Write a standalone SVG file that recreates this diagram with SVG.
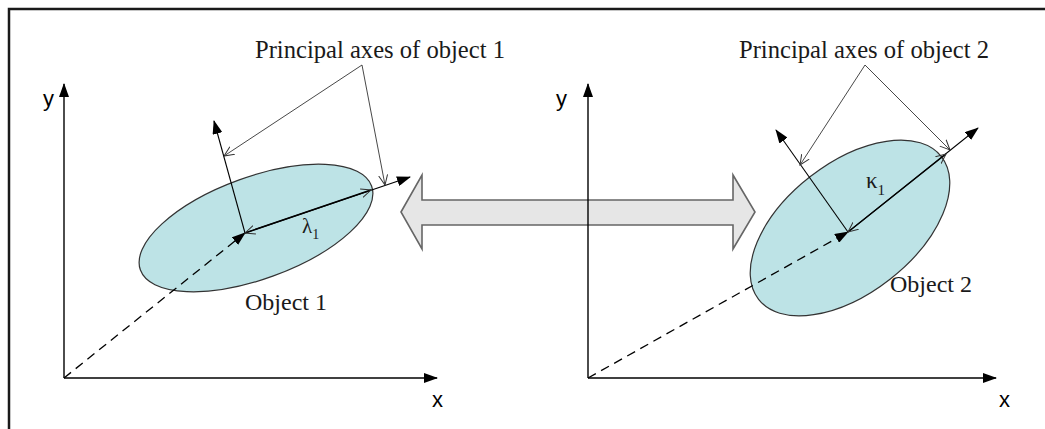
<svg xmlns="http://www.w3.org/2000/svg" width="1045" height="429" viewBox="0 0 1045 429">
<style>
.frame{fill:none;stroke:#1a1a1a;stroke-width:2.5}
.axis{stroke:#000;stroke-width:1.4;fill:none}
.dash{stroke:#000;stroke-width:1.3;stroke-dasharray:9,6;fill:none}
.thin{stroke:#000;stroke-width:1.1;fill:none}
.bold{stroke:#000;stroke-width:1.6;fill:none}
.call{stroke:#333;stroke-width:0.9;fill:none}
.obj{fill:#bde3e6;stroke:#333;stroke-width:1.2}
.big{fill:#e6e6e6;stroke:#666;stroke-width:1.6}
.serif{font-family:"Liberation Serif","Times New Roman",serif;fill:#1a1a1a}
.sans{font-family:"Liberation Sans",Arial,sans-serif;fill:#000;font-size:22px}
</style>
<defs>
<marker id="fill" markerUnits="userSpaceOnUse" markerWidth="14" markerHeight="10" refX="13" refY="5" orient="auto">
<path d="M0,0 L14,5 L0,10 z" fill="#000"/>
</marker>
<marker id="open" markerUnits="userSpaceOnUse" markerWidth="11" markerHeight="10" refX="10" refY="5" orient="auto-start-reverse">
<path d="M0,0.5 L10,5 L0,9.5" fill="none" stroke="#333" stroke-width="1"/>
</marker>
</defs>
<rect class="frame" x="9" y="9" width="1060" height="440"/>
<g id="bigArrow">
<polygon class="big" points="401,212 422,175 422,200 733,200 733,175 755,212 733,249 733,225 422,225 422,249"/>
</g>
<g id="axes1">
<line class="axis" x1="64" y1="378" x2="64" y2="84" marker-end="url(#fill)"/>
<line class="axis" x1="64" y1="378" x2="437" y2="378" marker-end="url(#fill)"/>
<text class="sans" x="43" y="106">y</text>
<text class="sans" x="432" y="407">x</text>
</g>
<g id="axes2">
<line class="axis" x1="588" y1="378" x2="588" y2="84" marker-end="url(#fill)"/>
<line class="axis" x1="588" y1="378" x2="996" y2="378" marker-end="url(#fill)"/>
<text class="sans" x="556" y="106">y</text>
<text class="sans" x="999" y="407">x</text>
</g>
<g id="object1">
<ellipse class="obj" cx="256" cy="228" rx="123" ry="51" transform="rotate(-20 256 228)"/>
<text class="serif" x="245" y="310" font-size="24">Object 1</text>
</g>
<g id="object2">
<ellipse class="obj" cx="850" cy="228" rx="116" ry="65" transform="rotate(-38 850 228)"/>
<text class="serif" x="890" y="292" font-size="24">Object 2</text>
</g>
<g id="connectors">
<line class="dash" x1="64" y1="378" x2="245" y2="233" marker-end="url(#fill)"/>
<line class="thin" x1="245" y1="233" x2="214" y2="121" marker-end="url(#fill)"/>
<line class="thin" x1="245" y1="233" x2="410" y2="177" marker-end="url(#fill)"/>
<line class="bold" x1="245" y1="233" x2="371" y2="190" marker-start="url(#open)" marker-end="url(#open)"/>
<polyline class="call" points="224,156 362,65 385,185" marker-start="url(#open)" marker-end="url(#open)"/>
<line class="dash" x1="588" y1="378" x2="848" y2="232" marker-end="url(#fill)"/>
<line class="thin" x1="848" y1="232" x2="776" y2="130" marker-end="url(#fill)"/>
<line class="thin" x1="848" y1="232" x2="978" y2="128" marker-end="url(#fill)"/>
<line class="thin" x1="848" y1="232" x2="946" y2="154" marker-start="url(#open)" marker-end="url(#open)"/>
<polyline class="call" points="800,165 865,65 950,150" marker-start="url(#open)" marker-end="url(#open)"/>
</g>
<g id="labels">
<text class="serif" x="255" y="58" font-size="24.6">Principal axes of object 1</text>
<text class="serif" x="739" y="58" font-size="24.6">Principal axes of object 2</text>
<text class="serif" x="302" y="233" font-size="21">λ<tspan font-size="14" dy="6">1</tspan></text>
<text class="serif" x="866" y="188" font-size="23">κ<tspan font-size="15" dy="7">1</tspan></text>
</g>
</svg>
